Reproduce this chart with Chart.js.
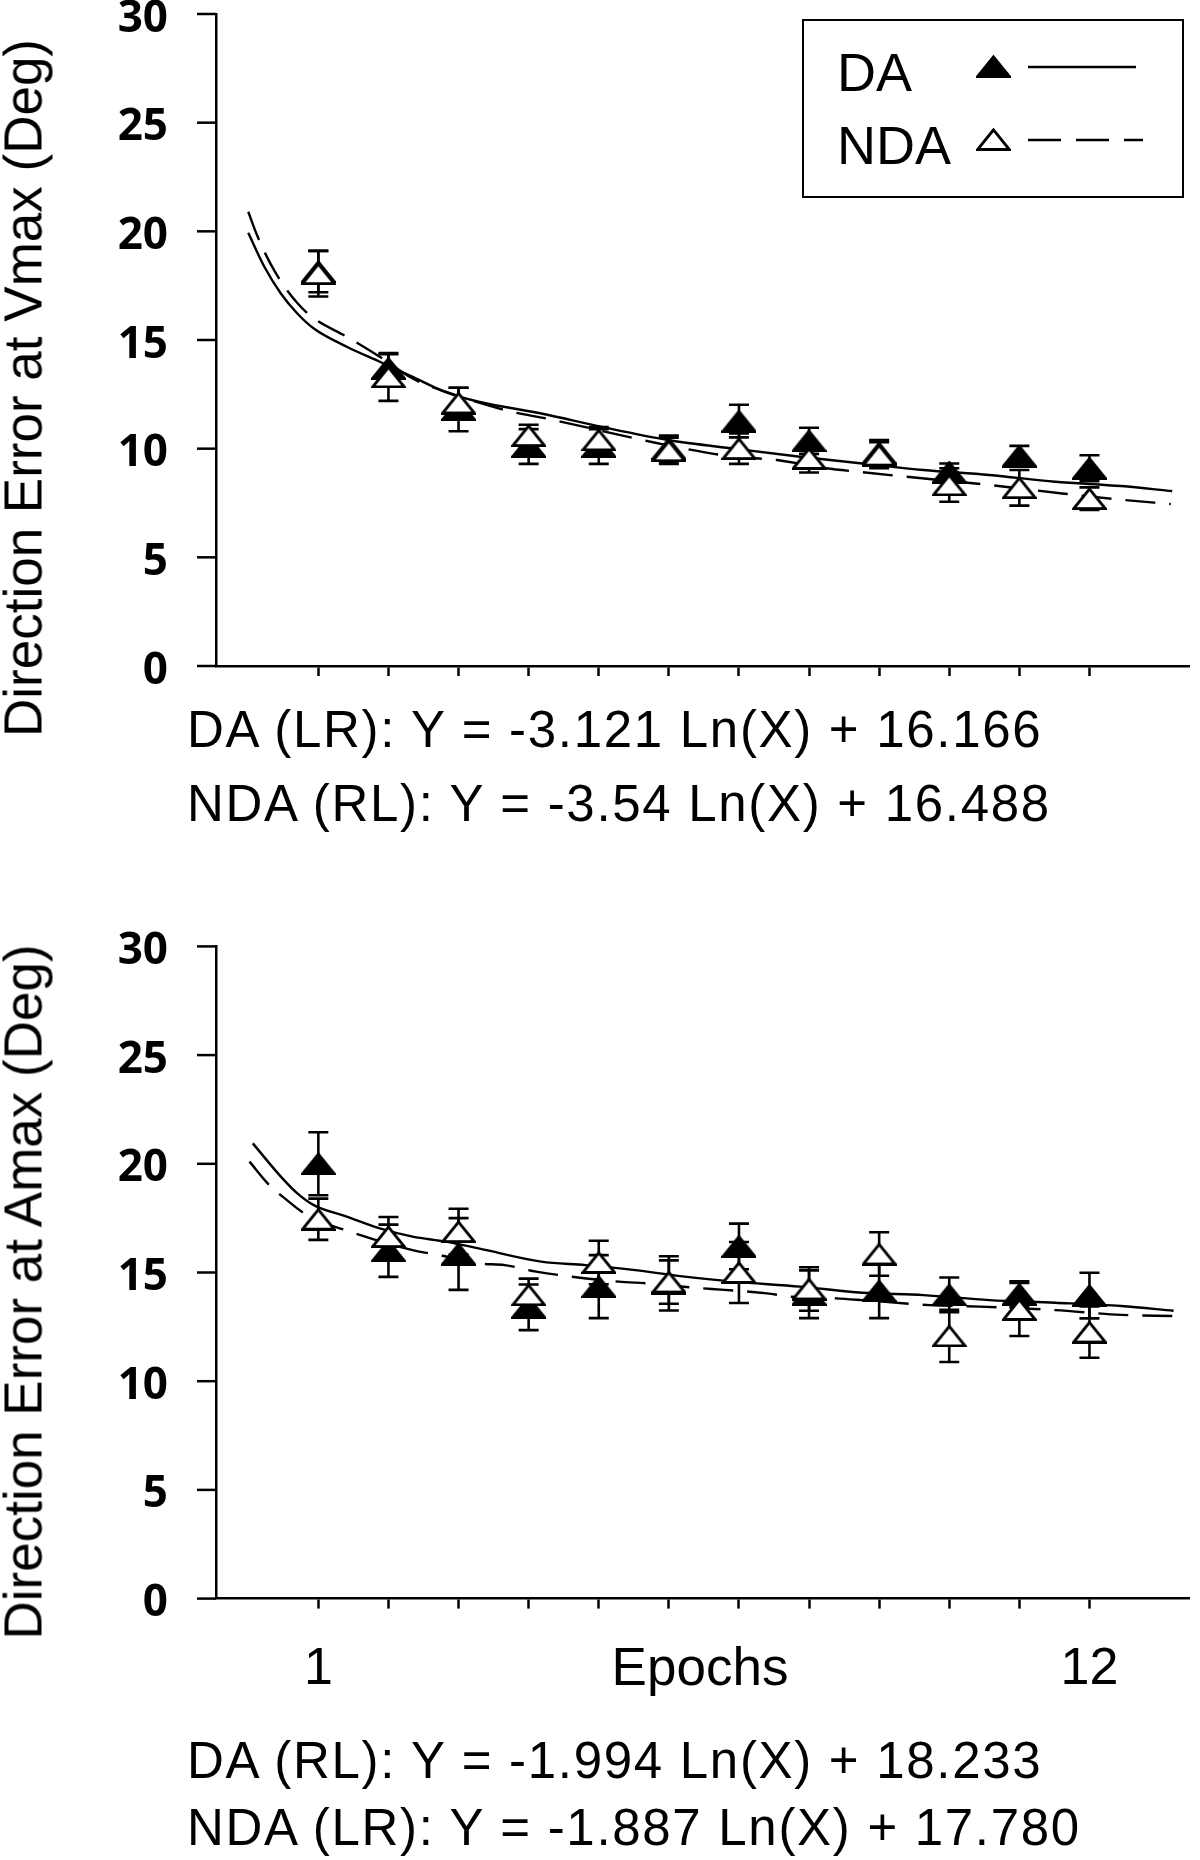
<!DOCTYPE html>
<html>
<head>
<meta charset="utf-8">
<title>Direction error by epoch</title>
<script src="https://cdn.jsdelivr.net/npm/chart.js@4.4.1/dist/chart.umd.min.js"></script>
<style>
  html, body { margin: 0; padding: 0; background: #fff; }
  body { width: 1200px; height: 1860px; position: relative; overflow: hidden;
         font-family: "Liberation Sans", Arial, sans-serif; color: #000; }
  canvas { position: absolute; left: 0; }
  .ytitle { position: absolute; font-size: 53px; line-height: 61px; white-space: nowrap;
            transform: translate(-50%, -50%) rotate(-90deg); }
  .eq { position: absolute; left: 187px; font-size: 51px; line-height: 51px;
        letter-spacing: 1.7px; white-space: nowrap; }
  .xtitle { position: absolute; font-size: 53px; line-height: 53px; white-space: nowrap;
            transform: translateX(-50%); }
  #legend { position: absolute; left: 802px; top: 19px; width: 382px; height: 179px;
            border: 2.5px solid #000; box-sizing: border-box; }
  .lg { position: absolute; font-size: 54px; line-height: 54px; white-space: nowrap; }
</style>
</head>
<body>
<canvas id="vmax" width="1200" height="740" style="top:-40px"></canvas>
<canvas id="amax" width="1200" height="840" style="top:880px"></canvas>

<div class="ytitle" style="left:23px; top:388px">Direction Error at Vmax (Deg)</div>
<div class="ytitle" style="left:23px; top:1292px">Direction Error at Amax (Deg)</div>

<div class="eq" style="top:704px">DA (LR): Y = -3.121 Ln(X) + 16.166</div>
<div class="eq" style="top:778px">NDA (RL): Y = -3.54 Ln(X) + 16.488</div>
<div class="xtitle" style="left:700px; top:1640px">Epochs</div>
<div class="eq" style="top:1735px">DA (RL): Y = -1.994 Ln(X) + 18.233</div>
<div class="eq" style="top:1802px">NDA (LR): Y = -1.887 Ln(X) + 17.780</div>

<div id="legend"></div>

<script>
// epochs on the x axis
const epochs = [1, 2, 3, 4, 5, 6, 7, 8, 9, 10, 11, 12];
const bottomTickLabels = ['1', '', '', '', '', '', '', '', '', '', '', '12'];
const seriesNames = ['DA', 'NDA'];

// Vmax panel: means and error bars
const daVmax    = [18.15, 13.7, 11.8, 10.1, 10.1, 10.0, 11.27, 10.36, 9.8, 8.92, 9.66, 9.1];
const daVmaxSE  = [0.95, 0.65, 1.0, 0.8, 0.8, 0.6, 0.75, 0.6, 0.6, 0.4, 0.47, 0.6];
const ndaVmax   = [18.05, 13.3, 12.1, 10.6, 10.4, 9.9, 10.0, 9.55, 9.7, 8.33, 8.2, 7.7];
const ndaVmaxSE = [1.05, 1.1, 0.7, 0.5, 0.6, 0.6, 0.7, 0.65, 0.6, 0.77, 0.82, 0.52];

// Vmax panel: fitted log curves
const daVmaxFitX  = [0.0, 0.23, 0.465, 0.70, 0.935, 1.405, 1.876, 2.345, 2.815, 3.286, 4.18, 5.05, 5.99, 6.93, 7.87, 8.76, 9.633, 10.57, 11.51, 12.454, 13.18];
const daVmaxFitY  = [19.93, 18.37, 17.14, 16.22, 15.53, 14.69, 14.0, 13.3, 12.6, 12.16, 11.62, 11.0, 10.4, 10.0, 9.63, 9.32, 9.02, 8.79, 8.48, 8.28, 8.05];
const ndaVmaxFitX = [0.0, 0.135, 0.37, 0.70, 0.935, 1.405, 1.876, 2.345, 2.815, 3.756, 4.25, 5.52, 6.224, 6.93, 7.54, 8.245, 8.69, 9.54, 10.57, 11.61, 12.454, 13.16];
const ndaVmaxFitY = [20.9, 19.75, 18.2, 16.7, 16.0, 15.15, 14.23, 13.23, 12.62, 11.7, 11.39, 10.47, 10.0, 9.63, 9.48, 9.1, 8.94, 8.66, 8.33, 7.94, 7.65, 7.45];

// Amax panel: means and error bars
const daAmax    = [20.0, 16.0, 15.85, 13.4, 14.35, 14.5, 16.2, 14.0, 14.15, 13.97, 14.0, 13.94];
const daAmaxSE  = [1.45, 1.2, 1.65, 1.05, 1.45, 1.25, 1.05, 1.1, 1.25, 0.8, 0.6, 1.05];
const ndaAmax   = [17.45, 16.65, 16.88, 13.97, 15.46, 14.56, 15.0, 14.24, 15.85, 12.08, 13.3, 12.26];
const ndaAmaxSE = [0.95, 0.9, 1.05, 0.75, 1.0, 1.0, 1.4, 1.0, 1.0, 1.2, 1.22, 1.18];

// Amax panel: fitted log curves
const daAmaxFitX  = [0.065, 0.465, 0.70, 0.935, 1.405, 1.876, 2.345, 2.815, 3.286, 4.18, 4.81, 5.52, 6.224, 6.93, 7.87, 8.76, 9.633, 10.57, 11.51, 12.454, 13.2];
const daAmaxFitY  = [20.94, 19.41, 18.64, 18.1, 17.57, 17.03, 16.65, 16.42, 16.11, 15.5, 15.34, 15.11, 14.81, 14.58, 14.35, 14.07, 13.96, 13.73, 13.61, 13.46, 13.24];
const ndaAmaxFitX = [0.018, 0.30, 0.49, 0.84, 1.45, 2.345, 2.77, 3.286, 3.66, 4.108, 5.283, 5.705, 6.365, 6.79, 7.4, 7.73, 8.386, 8.76, 9.726, 10.43, 11.51, 12.454, 13.2];
const ndaAmaxFitY = [20.1, 19.02, 18.49, 17.64, 16.88, 16.03, 15.77, 15.42, 15.34, 15.04, 14.58, 14.5, 14.3, 14.2, 14.04, 13.89, 13.81, 13.73, 13.5, 13.43, 13.27, 13.05, 13.0];

const zip = (xs, ys) => xs.map((x, i) => ({ x: x, y: ys[i] }));

// triangle markers (wide, flat SigmaPlot style)
function triangleMarker(filled) {
  const w = 35, h = 23;
  const c = document.createElement('canvas');
  c.width = w; c.height = h;
  const g = c.getContext('2d');
  g.beginPath();
  g.moveTo(w / 2, 1.8);
  g.lineTo(w - 1.6, h - 1.5);
  g.lineTo(1.6, h - 1.5);
  g.closePath();
  g.fillStyle = filled ? '#000' : '#fff';
  g.fill();
  g.lineWidth = 2.8;
  g.strokeStyle = '#000';
  g.stroke();
  return c;
}
const filledTri = triangleMarker(true);
const openTri = triangleMarker(false);
const dashPattern = [30, 14];

// vertical error bars with caps, drawn under the markers
const errorBars = {
  id: 'errorBars',
  beforeDatasetsDraw(chart) {
    const { ctx, scales: { x, y } } = chart;
    ctx.save();
    ctx.strokeStyle = '#000';
    ctx.lineWidth = 2.6;
    chart.data.datasets.forEach(ds => {
      if (!ds.errors) return;
      ds.data.forEach((p, i) => {
        const px = x.getPixelForValue(p.x);
        const top = y.getPixelForValue(p.y + ds.errors[i]);
        const bot = y.getPixelForValue(p.y - ds.errors[i]);
        ctx.beginPath();
        ctx.moveTo(px, top); ctx.lineTo(px, bot);
        ctx.moveTo(px - 10, top); ctx.lineTo(px + 10, top);
        ctx.moveTo(px - 10, bot); ctx.lineTo(px + 10, bot);
        ctx.stroke();
      });
    });
    ctx.restore();
  }
};

// y axis tick marks: long at multiples of 5, short in between
const yTickMarks = {
  id: 'yTickMarks',
  afterDraw(chart) {
    const s = chart.scales.y, ctx = chart.ctx;
    ctx.save();
    ctx.strokeStyle = '#000';
    ctx.lineWidth = 2.5;
    s.ticks.forEach(t => {
      const py = s.getPixelForValue(t.value);
      const len = t.value % 5 === 0 ? 19 : 11;
      ctx.beginPath();
      ctx.moveTo(s.right, py);
      ctx.lineTo(s.right - len, py);
      ctx.stroke();
    });
    ctx.restore();
  }
};

function makePanel(id, da, daSE, nda, ndaSE, daFit, ndaFit, padTop, xHeight, showXLabels) {
  return new Chart(document.getElementById(id), {
    type: 'scatter',
    data: {
      datasets: [
        { label: seriesNames[1], data: zip(epochs, nda), errors: ndaSE, pointStyle: openTri, order: 0 },
        { label: seriesNames[0], data: zip(epochs, da), errors: daSE, pointStyle: filledTri, order: 1 },
        { type: 'line', label: seriesNames[0] + ' fit', data: daFit, borderColor: '#000', borderWidth: 2.4,
          pointRadius: 0, tension: 0.4, cubicInterpolationMode: 'monotone', fill: false, order: 2 },
        { type: 'line', label: seriesNames[1] + ' fit', data: ndaFit, borderColor: '#000', borderWidth: 2.4,
          borderDash: dashPattern, pointRadius: 0, tension: 0.4, cubicInterpolationMode: 'monotone', fill: false, order: 3 }
      ]
    },
    options: {
      responsive: false,
      animation: false,
      layout: { padding: { top: padTop, left: 0, right: 0, bottom: 0 } },
      plugins: { legend: { display: false }, tooltip: { enabled: false } },
      scales: {
        x: {
          type: 'linear',
          min: -0.46,
          max: 13.42,
          afterBuildTicks: s => { s.ticks = epochs.map(v => ({ value: v })); },
          afterFit: s => { s.height = xHeight; },
          grid: { display: true, drawOnChartArea: false, drawTicks: true, tickLength: 10,
                  tickWidth: 2.5, tickColor: '#000' },
          border: { display: true, color: '#000', width: 2.5 },
          ticks: {
            display: showXLabels,
            autoSkip: false,
            maxRotation: 0,
            padding: 30,
            color: '#000',
            font: { family: '"Liberation Sans", Arial, sans-serif', size: 52 },
            callback: v => bottomTickLabels[epochs.indexOf(v)]
          }
        },
        y: {
          min: 0,
          max: 30,
          afterFit: s => { s.width = 216; },
          // tick marks are drawn by the plugin; tickLength only spaces the labels
          grid: { display: false, drawTicks: true, tickLength: 46 },
          border: { display: true, color: '#000', width: 2.5 },
          ticks: {
            stepSize: 2.5,
            padding: 2,
            labelOffset: 5,
            color: '#000',
            font: { family: '"Open Sans", "DejaVu Sans", sans-serif', size: 44, weight: 'bold' },
            callback: v => (v % 5 === 0 ? String(v) : '')
          }
        }
      }
    },
    plugins: [errorBars, yTickMarks]
  });
}

Chart.defaults.datasets.scatter.pointRadius = 10;

makePanel('vmax', daVmax, daVmaxSE, ndaVmax, ndaVmaxSE,
  zip(daVmaxFitX, daVmaxFitY), zip(ndaVmaxFitX, ndaVmaxFitY), 54, 34, false);
makePanel('amax', daAmax, daAmaxSE, ndaAmax, ndaAmaxSE,
  zip(daAmaxFitX, daAmaxFitY), zip(ndaAmaxFitX, ndaAmaxFitY), 66.4, 121.4, true);

// legend: label, marker, line sample
const legend = document.getElementById('legend');
const legendRows = [
  { label: seriesNames[0], marker: filledTri, dash: null },
  { label: seriesNames[1], marker: openTri, dash: '33 15' }
];
legendRows.forEach((row, i) => {
  const rowTop = 24 + i * 73;
  const t = document.createElement('div');
  t.className = 'lg';
  t.style.left = '33px';
  t.style.top = rowTop + 'px';
  t.textContent = row.label;
  legend.appendChild(t);
  const m = document.createElement('canvas');
  m.width = row.marker.width; m.height = row.marker.height;
  m.getContext('2d').drawImage(row.marker, 0, 0);
  m.style.left = '172px';
  m.style.top = (rowTop + 10) + 'px';
  legend.appendChild(m);
  const svg = document.createElementNS('http://www.w3.org/2000/svg', 'svg');
  svg.setAttribute('width', '120');
  svg.setAttribute('height', '6');
  svg.style.position = 'absolute';
  svg.style.left = '224px';
  svg.style.top = (rowTop + 19) + 'px';
  const ln = document.createElementNS('http://www.w3.org/2000/svg', 'line');
  ln.setAttribute('x1', '0'); ln.setAttribute('y1', '3');
  ln.setAttribute('x2', row.dash ? '115' : '108'); ln.setAttribute('y2', '3');
  ln.setAttribute('stroke', '#000'); ln.setAttribute('stroke-width', '2.5');
  if (row.dash) ln.setAttribute('stroke-dasharray', row.dash);
  svg.appendChild(ln);
  legend.appendChild(svg);
});
</script>
</body>
</html>
